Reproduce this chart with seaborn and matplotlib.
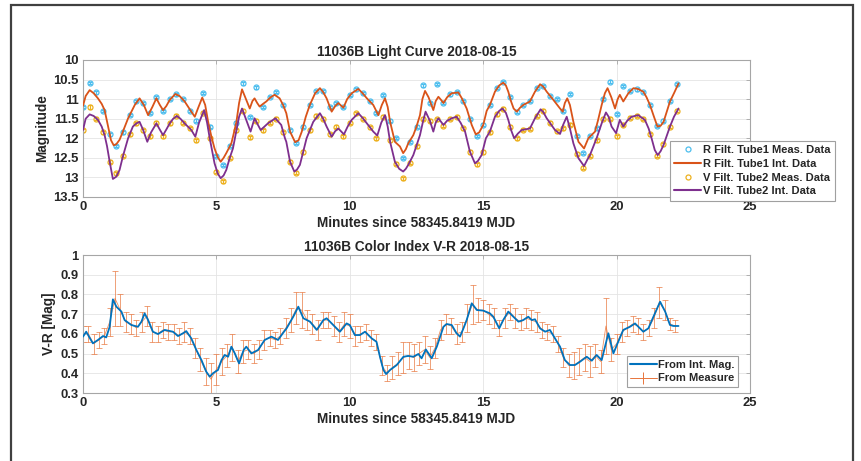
import matplotlib
matplotlib.use("Agg")
import matplotlib.pyplot as plt
import seaborn as sns
import pandas as pd
from matplotlib.patches import Rectangle
from matplotlib.lines import Line2D

# ---------------- data ----------------
t_r_int = [0.0, 0.1, 0.25, 0.4, 0.56, 0.7, 0.81, 0.94, 1.05, 1.15, 1.25, 1.37, 1.5, 1.69, 1.94, 2.12, 2.28, 2.44,
           2.6, 2.75, 2.88, 3.0, 3.12, 3.25, 3.46, 3.62, 3.81, 4.06, 4.19, 4.33, 4.47, 4.58, 4.69, 4.81, 4.93, 5.05,
           5.16, 5.27, 5.37, 5.56, 5.66, 5.75, 5.85, 5.96, 6.08, 6.25, 6.35, 6.43, 6.53, 6.62, 6.75, 6.87, 7.02,
           7.18, 7.37, 7.5, 7.62, 7.76, 7.95, 8.08, 8.2, 8.35, 8.5, 8.7, 8.88, 9.0, 9.13, 9.32, 9.45, 9.57, 9.76,
           9.9, 10.07, 10.32, 10.48, 10.64, 10.88, 11.07, 11.2, 11.32, 11.42, 11.51, 11.69, 11.88, 12.0, 12.1,
           12.19, 12.38, 12.5, 12.63, 12.72, 12.82, 12.95, 13.13, 13.22, 13.32, 13.42, 13.51, 13.65, 13.82, 14.07,
           14.2, 14.38, 14.57, 14.72, 14.85, 15.0, 15.13, 15.25, 15.44, 15.6, 15.75, 15.85, 15.94, 16.04, 16.14,
           16.26, 16.38, 16.5, 16.75, 16.94, 17.13, 17.25, 17.38, 17.63, 17.88, 17.98, 18.06, 18.15, 18.25, 18.38,
           18.57, 18.78, 18.94, 19.06, 19.19, 19.3, 19.44, 19.56, 19.66, 19.8, 19.94, 20.04, 20.12, 20.25, 20.44,
           20.63, 20.8, 21.0, 21.12, 21.25, 21.4, 21.53, 21.65, 21.76, 22.0, 22.15, 22.32]
r_int = [11.17, 10.92, 10.77, 10.85, 10.98, 11.12, 11.28, 11.7, 12.05, 12.18, 12.15, 12.04, 11.82, 11.49, 11.15,
         10.98, 11.15, 11.41, 11.2, 10.98, 11.15, 11.28, 11.18, 11.02, 10.87, 10.92, 11.06, 11.32, 11.45, 11.2,
         10.96, 11.15, 11.58, 11.95, 12.26, 12.48, 12.6, 12.5, 12.38, 12.13, 11.85, 11.58, 11.1, 10.75, 10.95,
         11.24, 11.05, 10.98, 11.1, 11.19, 11.12, 11.06, 10.96, 10.89, 10.98, 11.15, 11.36, 11.83, 12.1, 12.05,
         11.83, 11.45, 11.15, 10.85, 10.72, 10.82, 10.98, 11.32, 11.18, 11.1, 11.22, 11.0, 10.85, 10.74, 10.85,
         10.98, 11.15, 11.41, 11.15, 10.98, 11.2, 11.58, 12.09, 12.21, 12.38, 12.28, 12.13, 11.92, 11.7, 11.41,
         11.0, 10.79, 10.95, 11.28, 11.05, 10.94, 11.02, 11.1, 10.95, 10.85, 10.83, 10.98, 11.24, 11.66, 11.9,
         11.85, 11.66, 11.3, 11.15, 10.81, 10.65, 10.58, 10.65, 10.81, 11.05, 11.24, 11.32, 11.22, 11.15, 11.06,
         10.81, 10.62, 10.68, 10.81, 11.02, 11.24, 11.32, 11.1, 10.98, 11.15, 11.58, 12.09, 12.26, 12.0, 11.92,
         11.83, 11.55, 11.15, 10.85, 10.72, 10.95, 11.24, 11.0, 10.89, 11.06, 10.85, 10.72, 10.74, 10.81, 10.95,
         11.15, 11.45, 11.7, 11.68, 11.58, 11.06, 10.85, 10.6]

t_v_int = [0.0, 0.1, 0.25, 0.4, 0.56, 0.7, 0.81, 0.9, 1.0, 1.12, 1.25, 1.37, 1.5, 1.69, 1.87, 2.0, 2.12, 2.25, 2.41,
           2.55, 2.75, 2.88, 3.0, 3.12, 3.25, 3.38, 3.52, 3.65, 3.81, 4.06, 4.21, 4.35, 4.54, 4.65, 4.75, 4.93,
           5.05, 5.16, 5.27, 5.37, 5.5, 5.62, 5.75, 5.85, 5.96, 6.1, 6.28, 6.43, 6.55, 6.66, 6.8, 6.93, 7.21, 7.35,
           7.43, 7.57, 7.62, 7.76, 7.92, 8.02, 8.13, 8.25, 8.38, 8.63, 8.88, 9.0, 9.13, 9.32, 9.45, 9.57, 9.78,
           9.92, 10.07, 10.32, 10.48, 10.64, 10.88, 11.03, 11.18, 11.32, 11.42, 11.51, 11.69, 11.85, 12.0, 12.1,
           12.19, 12.38, 12.63, 12.75, 12.84, 13.0, 13.13, 13.22, 13.32, 13.42, 13.51, 13.65, 13.82, 14.0, 14.15,
           14.32, 14.5, 14.69, 14.8, 14.94, 15.1, 15.25, 15.44, 15.6, 15.72, 15.85, 15.94, 16.05, 16.16, 16.3,
           16.44, 16.75, 16.94, 17.15, 17.25, 17.38, 17.69, 17.88, 18.0, 18.13, 18.25, 18.38, 18.57, 18.78, 18.9,
           19.0, 19.25, 19.45, 19.6, 19.7, 19.81, 19.98, 20.12, 20.25, 20.4, 20.56, 20.81, 21.06, 21.2, 21.31,
           21.43, 21.54, 21.65, 21.76, 22.0, 22.15, 22.32]
v_int = [11.79, 11.5, 11.39, 11.43, 11.53, 11.7, 11.92, 12.2, 12.6, 13.04, 12.98, 12.81, 12.45, 12.0, 11.7, 11.62,
         11.58, 11.78, 12.09, 11.85, 11.62, 11.78, 11.92, 11.78, 11.62, 11.5, 11.43, 11.5, 11.62, 11.79, 11.96,
         11.6, 11.28, 11.6, 12.0, 12.64, 12.9, 13.02, 12.95, 12.81, 12.5, 12.26, 11.8, 11.45, 11.24, 11.5, 11.83,
         11.49, 11.65, 11.79, 11.7, 11.62, 11.49, 11.6, 11.66, 12.0, 12.09, 12.6, 12.85, 12.8, 12.68, 12.35, 12.0,
         11.58, 11.36, 11.5, 11.7, 11.96, 11.82, 11.75, 11.9, 11.7, 11.53, 11.36, 11.48, 11.62, 11.83, 11.93,
         11.6, 11.41, 11.7, 12.09, 12.6, 12.78, 12.85, 12.78, 12.68, 12.43, 11.92, 11.55, 11.32, 11.55, 11.83,
         11.6, 11.49, 11.58, 11.66, 11.55, 11.49, 11.45, 11.6, 11.83, 12.34, 12.64, 12.58, 12.43, 12.0, 11.83,
         11.45, 11.3, 11.24, 11.35, 11.53, 11.8, 12.0, 11.88, 11.79, 11.75, 11.49, 11.26, 11.33, 11.49, 11.79,
         11.89, 11.65, 11.45, 11.75, 12.13, 12.51, 12.71, 12.55, 12.43, 12.0, 11.6, 11.34, 11.45, 11.7, 11.87,
         11.53, 11.7, 11.55, 11.45, 11.41, 11.53, 11.75, 12.0, 12.3, 12.43, 12.33, 12.17, 11.7, 11.45, 11.24]

t_meas = [0.0, 0.25, 0.5, 0.75, 1.0, 1.25, 1.5, 1.75, 2.0, 2.25, 2.5, 2.75, 3.0, 3.25, 3.5, 3.75, 4.0, 4.25,
          4.5, 4.75, 5.0, 5.25, 5.5, 5.75, 6.0, 6.25, 6.5, 6.75, 7.0, 7.25, 7.5, 7.75, 8.0, 8.25, 8.5, 8.75,
          9.0, 9.25, 9.5, 9.75, 10.0, 10.25, 10.5, 10.75, 11.0, 11.25, 11.5, 11.75, 12.0, 12.25, 12.5, 12.75,
          13.0, 13.25, 13.5, 13.75, 14.0, 14.25, 14.5, 14.75, 15.0, 15.25, 15.5, 15.75, 16.0, 16.25, 16.5, 16.75,
          17.0, 17.25, 17.5, 17.75, 18.0, 18.25, 18.5, 18.75, 19.0, 19.25, 19.5, 19.75, 20.0, 20.25, 20.5, 20.75,
          21.0, 21.25, 21.5, 21.75, 22.0, 22.25]
r_meas = [11.2, 10.58, 10.83, 11.3, 11.9, 12.2, 11.85, 11.4, 11.05, 11.1, 11.35, 10.95, 11.3, 11.0, 10.88, 11.0,
          11.3, 11.55, 10.85, 11.7, 12.45, 12.68, 12.2, 11.6, 10.6, 11.45, 10.7, 11.2, 10.95, 10.82, 11.15, 11.8,
          12.12, 11.7, 11.15, 10.8, 10.8, 11.2, 11.1, 11.2, 10.9, 10.75, 10.85, 11.05, 11.35, 10.9, 11.55, 12.0,
          12.5, 12.1, 11.7, 10.65, 11.1, 10.62, 11.1, 10.88, 10.82, 11.05, 11.5, 11.95, 11.65, 11.15, 10.72,
          10.57, 10.95, 11.32, 11.15, 11.05, 10.72, 10.67, 10.92, 11.0, 11.3, 10.87, 11.95, 12.38, 11.95, 11.75,
          11.0, 10.55, 11.38, 10.66, 10.8, 10.75, 10.82, 11.15, 11.68, 11.55, 11.05, 10.62]
v_meas = [11.8, 11.2, 11.5, 11.85, 12.6, 12.9, 12.45, 11.9, 11.62, 11.8, 11.95, 11.6, 11.95, 11.62, 11.42, 11.6,
          11.75, 12.05, 11.35, 12.0, 12.85, 13.1, 12.5, 11.8, 11.3, 11.98, 11.55, 11.8, 11.6, 11.5, 11.85, 12.6,
          12.88, 12.35, 11.8, 11.42, 11.5, 11.9, 11.7, 11.95, 11.6, 11.36, 11.5, 11.72, 12.0, 11.45, 12.05, 12.65,
          13.02, 12.62, 12.2, 11.5, 11.55, 11.52, 11.68, 11.5, 11.45, 11.75, 12.35, 12.66, 12.35, 11.85, 11.38,
          11.25, 11.7, 12.0, 11.78, 11.76, 11.42, 11.3, 11.6, 11.82, 11.75, 11.65, 12.4, 12.75, 12.45, 12.05,
          11.5, 11.5, 11.95, 11.65, 11.48, 11.42, 11.5, 11.9, 12.45, 12.15, 11.7, 11.3]
r_err = 0.03
v_err = 0.04

t_ci_int = [0.0, 0.12, 0.25, 0.37, 0.56, 0.75, 0.87, 1.0, 1.12, 1.25, 1.44, 1.56, 1.81, 2.06, 2.19, 2.31, 2.44,
            2.62, 2.81, 3.06, 3.37, 3.56, 3.75, 3.87, 4.06, 4.25, 4.44, 4.62, 4.75, 4.87, 5.06, 5.19, 5.31, 5.44,
            5.56, 5.69, 5.85, 6.02, 6.12, 6.31, 6.56, 6.81, 7.06, 7.31, 7.5, 7.63, 7.88, 8.07, 8.26, 8.51, 8.76,
            9.01, 9.13, 9.38, 9.63, 9.88, 10.0, 10.19, 10.38, 10.57, 10.82, 11.0, 11.13, 11.26, 11.36, 11.51,
            11.76, 12.01, 12.19, 12.38, 12.57, 12.69, 12.85, 13.07, 13.26, 13.51, 13.63, 13.82, 14.0, 14.13,
            14.26, 14.38, 14.57, 14.76, 15.0, 15.25, 15.38, 15.6, 15.75, 15.94, 16.13, 16.32, 16.5, 16.69, 16.82,
            16.94, 17.13, 17.32, 17.5, 17.69, 17.88, 18.06, 18.25, 18.44, 18.63, 18.88, 19.07, 19.25, 19.44,
            19.69, 19.88, 20.06, 20.25, 20.5, 20.69, 21.0, 21.19, 21.38, 21.63, 21.82, 22.0, 22.13, 22.32]
ci_int = [0.586, 0.611, 0.58, 0.552, 0.569, 0.589, 0.582, 0.636, 0.775, 0.738, 0.713, 0.67, 0.645, 0.636, 0.662,
          0.704, 0.67, 0.611, 0.599, 0.62, 0.611, 0.589, 0.603, 0.614, 0.577, 0.518, 0.467, 0.408, 0.383, 0.4,
          0.417, 0.467, 0.493, 0.484, 0.535, 0.501, 0.45, 0.518, 0.535, 0.501, 0.518, 0.569, 0.586, 0.569, 0.605,
          0.628, 0.687, 0.738, 0.679, 0.662, 0.62, 0.67, 0.679, 0.645, 0.611, 0.653, 0.645, 0.594, 0.594, 0.611,
          0.577, 0.56, 0.484, 0.417, 0.396, 0.417, 0.442, 0.484, 0.488, 0.484, 0.498, 0.476, 0.521, 0.476, 0.535,
          0.636, 0.65, 0.645, 0.603, 0.586, 0.628, 0.67, 0.755, 0.721, 0.718, 0.704, 0.687, 0.628, 0.67, 0.713,
          0.687, 0.662, 0.67, 0.687, 0.67, 0.674, 0.628, 0.611, 0.62, 0.577, 0.535, 0.467, 0.442, 0.442, 0.459,
          0.484, 0.464, 0.493, 0.467, 0.603, 0.501, 0.56, 0.62, 0.636, 0.653, 0.611, 0.628, 0.687, 0.763, 0.713,
          0.645, 0.64, 0.64]

t_ci_meas = [0.0, 0.2, 0.4, 0.6, 0.8, 1.0, 1.2, 1.4, 1.6, 1.8, 2.0, 2.2, 2.4, 2.6, 2.8, 3.0, 3.2, 3.4, 3.6, 3.8,
             4.0, 4.2, 4.4, 4.6, 4.8, 5.0, 5.2, 5.4, 5.6, 5.8, 6.0, 6.2, 6.4, 6.6, 6.8, 7.0, 7.2, 7.4, 7.6, 7.8,
             8.0, 8.2, 8.4, 8.6, 8.8, 9.0, 9.2, 9.4, 9.6, 9.8, 10.0, 10.2, 10.4, 10.6, 10.8, 11.0, 11.2, 11.4,
             11.6, 11.8, 12.0, 12.2, 12.4, 12.6, 12.8, 13.0, 13.2, 13.4, 13.6, 13.8, 14.0, 14.2, 14.4, 14.6, 14.8,
             15.0, 15.2, 15.4, 15.6, 15.8, 16.0, 16.2, 16.4, 16.6, 16.8, 17.0, 17.2, 17.4, 17.6, 17.8, 18.0, 18.2,
             18.4, 18.6, 18.8, 19.0, 19.2, 19.4, 19.6, 19.8, 20.0, 20.2, 20.4, 20.6, 20.8, 21.0, 21.2, 21.4, 21.6,
             21.8, 22.0, 22.2]
ci_meas = [0.60, 0.60, 0.55, 0.57, 0.59, 0.66, 0.78, 0.72, 0.66, 0.65, 0.63, 0.66, 0.69, 0.61, 0.60, 0.62, 0.61,
           0.61, 0.59, 0.61, 0.59, 0.53, 0.47, 0.41, 0.37, 0.42, 0.46, 0.49, 0.53, 0.46, 0.51, 0.52, 0.50, 0.52,
           0.57, 0.58, 0.57, 0.59, 0.63, 0.67, 0.73, 0.72, 0.67, 0.65, 0.62, 0.67, 0.67, 0.64, 0.61, 0.65, 0.64,
           0.59, 0.60, 0.61, 0.58, 0.56, 0.44, 0.40, 0.43, 0.45, 0.48, 0.49, 0.48, 0.50, 0.52, 0.48, 0.53, 0.62,
           0.65, 0.64, 0.60, 0.61, 0.68, 0.75, 0.72, 0.72, 0.70, 0.68, 0.63, 0.68, 0.71, 0.68, 0.66, 0.68, 0.67,
           0.66, 0.62, 0.61, 0.60, 0.55, 0.48, 0.44, 0.44, 0.46, 0.48, 0.46, 0.49, 0.46, 0.64, 0.52, 0.55, 0.61,
           0.63, 0.65, 0.64, 0.61, 0.63, 0.68, 0.76, 0.72, 0.65, 0.64]
ci_err = [0.04, 0.04, 0.05, 0.04, 0.04, 0.07, 0.14, 0.08, 0.05, 0.05, 0.04, 0.05, 0.05, 0.05, 0.04, 0.04, 0.04,
          0.04, 0.04, 0.05, 0.04, 0.05, 0.06, 0.07, 0.08, 0.08, 0.07, 0.06, 0.07, 0.06, 0.06, 0.05, 0.05, 0.05,
          0.05, 0.04, 0.04, 0.04, 0.05, 0.06, 0.08, 0.09, 0.05, 0.05, 0.05, 0.04, 0.04, 0.05, 0.05, 0.06, 0.06,
          0.05, 0.04, 0.04, 0.04, 0.04, 0.05, 0.04, 0.06, 0.06, 0.08, 0.07, 0.07, 0.06, 0.07, 0.06, 0.05, 0.05,
          0.05, 0.04, 0.05, 0.05, 0.07, 0.10, 0.06, 0.05, 0.05, 0.05, 0.04, 0.05, 0.04, 0.05, 0.04, 0.05, 0.05,
          0.05, 0.04, 0.04, 0.04, 0.04, 0.05, 0.06, 0.07, 0.07, 0.07, 0.08, 0.06, 0.06, 0.14, 0.06, 0.05, 0.05,
          0.04, 0.04, 0.04, 0.04, 0.04, 0.05, 0.08, 0.05, 0.03, 0.03]

top_title = "11036B Light Curve 2018-08-15"
bot_title = "11036B Color Index V-R 2018-08-15"
xlabel = "Minutes since 58345.8419 MJD"
top_labels = ["R Filt. Tube1 Meas. Data", "R Filt. Tube1 Int. Data",
              "V Filt. Tube2 Meas. Data", "V Filt. Tube2 Int. Data"]
bot_labels = ["From Int. Mag.", "From Measure"]
top_yticks = [10, 10.5, 11, 11.5, 12, 12.5, 13, 13.5]
top_yticklabels = ["10", "10.5", "11", "11.5", "12", "12.5", "13", "13.5"]
bot_yticks = [0.3, 0.4, 0.5, 0.6, 0.7, 0.8, 0.9, 1.0]
bot_yticklabels = ["0.3", "0.4", "0.5", "0.6", "0.7", "0.8", "0.9", "1"]
xticks = [0, 5, 10, 15, 20, 25]

# ---------------- style ----------------
sns.set_theme(style="white")
plt.rcParams['font.family'] = ['Liberation Sans', 'DejaVu Sans']
plt.rcParams['font.weight'] = 'bold'
plt.rcParams['axes.labelweight'] = 'bold'
plt.rcParams['axes.titleweight'] = 'bold'

C_RM = '#4DBEEE'
C_RI = '#D95319'
C_VM = '#EDB120'
C_VI = '#7E2F8E'
C_CI = '#0072BD'
C_CM = '#E8743B'
TXT = '#262626'
FS = 9.8
TFS = 9.4
LFS = 8.0

fig = plt.figure(figsize=(8.61, 4.61), dpi=100)
fig.patch.set_facecolor('white')
ax1 = fig.add_axes([0.0964, 0.5727, 0.7747, 0.2972])
ax2 = fig.add_axes([0.0964, 0.1475, 0.7747, 0.2993])

# outer frame
fig.add_artist(Rectangle((0.0128, -0.05), 0.978, 1.039, transform=fig.transFigure,
                         fill=False, ec='#404040', lw=1.6))

# ---------------- top: light curve ----------------
df_r = pd.DataFrame({'t': t_r_int, 'm': r_int})
df_v = pd.DataFrame({'t': t_v_int, 'm': v_int})
ax1.errorbar(t_meas, r_meas, yerr=r_err, fmt='o', mfc='none', mec=C_RM, ecolor=C_RM,
             ms=3.6, mew=0.9, elinewidth=0.8, capsize=1.5, zorder=2)
sns.lineplot(data=df_r, x='t', y='m', ax=ax1, color=C_RI, lw=1.3, estimator=None, sort=False, zorder=3)
ax1.errorbar(t_meas, v_meas, yerr=v_err, fmt='o', mfc='none', mec=C_VM, ecolor=C_VM,
             ms=3.6, mew=0.9, elinewidth=0.8, capsize=1.5, zorder=2)
sns.lineplot(data=df_v, x='t', y='m', ax=ax1, color=C_VI, lw=1.3, estimator=None, sort=False, zorder=3)

ax1.set_xlim(0, 25)
ax1.set_ylim(13.5, 10)
ax1.set_yticks(top_yticks)
ax1.set_yticklabels(top_yticklabels)
ax1.set_xticks(xticks)
ax1.set_title(top_title, fontsize=FS, fontweight='bold', color=TXT, pad=3)
ax1.set_xlabel(xlabel, fontsize=FS, fontweight='bold', color=TXT, labelpad=2)
ax1.set_ylabel("Magnitude", fontsize=FS, fontweight='bold', color=TXT, labelpad=3)

h_top = [
    Line2D([], [], ls='none', marker='o', mfc='none', mec=C_RM, ms=3.6, mew=0.9),
    Line2D([], [], color=C_RI, lw=1.5),
    Line2D([], [], ls='none', marker='o', mfc='none', mec=C_VM, ms=3.6, mew=0.9),
    Line2D([], [], color=C_VI, lw=1.5),
]
leg1 = ax1.legend(h_top, top_labels, loc='upper left', bbox_to_anchor=(0.88, 0.41),
                  borderaxespad=0, fontsize=LFS, frameon=True, fancybox=False,
                  edgecolor='#a0a0a0', framealpha=1, borderpad=0.4, labelspacing=0.33,
                  handlelength=2.4, handletextpad=0.15)
leg1.get_frame().set_linewidth(0.8)
for txt in leg1.get_texts():
    txt.set_fontweight('bold')
    txt.set_color(TXT)

# ---------------- bottom: colour index ----------------
df_ci = pd.DataFrame({'t': t_ci_int, 'c': ci_int})
ax2.errorbar(t_ci_meas, ci_meas, yerr=ci_err, fmt='-', color=C_CM, ecolor=C_CM,
             lw=0.6, elinewidth=0.6, capsize=2, capthick=0.6, alpha=0.8, zorder=2)
sns.lineplot(data=df_ci, x='t', y='c', ax=ax2, color=C_CI, lw=1.3, estimator=None, sort=False, zorder=3)

ax2.set_xlim(0, 25)
ax2.set_ylim(0.3, 1.0)
ax2.set_yticks(bot_yticks)
ax2.set_yticklabels(bot_yticklabels)
ax2.set_xticks(xticks)
ax2.set_title(bot_title, fontsize=FS, fontweight='bold', color=TXT, pad=3)
ax2.set_xlabel(xlabel, fontsize=FS, fontweight='bold', color=TXT, labelpad=2)
ax2.set_ylabel("V-R [Mag]", fontsize=FS, fontweight='bold', color=TXT, labelpad=3)

h_bot = [Line2D([], [], color=C_CI, lw=1.5),
         Line2D([], [], color=C_CM, lw=0.7, marker='|', ms=8, mew=0.7)]
leg2 = ax2.legend(h_bot, bot_labels, loc='lower right', bbox_to_anchor=(0.982, 0.045),
                  borderaxespad=0, fontsize=LFS, frameon=True, fancybox=False,
                  edgecolor='#a0a0a0', framealpha=1, borderpad=0.3, labelspacing=0.35,
                  handlelength=2.4, handletextpad=0.15)
leg2.get_frame().set_linewidth(0.8)
for txt in leg2.get_texts():
    txt.set_fontweight('bold')
    txt.set_color(TXT)

for ax in (ax1, ax2):
    ax.grid(True, color='#e4e4e4', lw=0.6)
    ax.set_axisbelow(True)
    for sp in ax.spines.values():
        sp.set_visible(True)
        sp.set_color('#a6a6a6')
        sp.set_linewidth(0.8)
    ax.tick_params(direction='in', length=3, width=0.6, color='#a6a6a6',
                   top=True, right=True, labelsize=TFS, labelcolor=TXT, pad=3)
    for lab in ax.get_xticklabels() + ax.get_yticklabels():
        lab.set_fontweight('bold')

fig.savefig("out.png", dpi=100)
